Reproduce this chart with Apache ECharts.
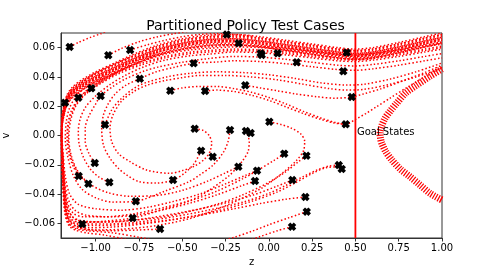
<!DOCTYPE html>
<html><head><meta charset="utf-8">
<script src="https://cdn.jsdelivr.net/npm/echarts@6/dist/echarts.min.js"></script>
<style>html,body{margin:0;padding:0;background:#fff}#c{width:491px;height:273px}</style>
</head><body><div id="c"></div>
<script>
const xTicks = [-1.0,-0.75,-0.5,-0.25,0,0.25,0.5,0.75,1.0];
const xTickLabels = ['−1.00','−0.75','−0.50','−0.25','0.00','0.25','0.50','0.75','1.00'];
const yTicks = [-0.06,-0.04,-0.02,0,0.02,0.04,0.06];
const yTickLabels = ['−0.06','−0.04','−0.02','0.00','0.02','0.04','0.06'];

// test-case start states [z, v]
const testCases = [[-1.177,0.0224],[-1.15,0.0605],[-1.1,0.0258],[-1.025,0.0322],[-0.971,0.027],[-0.927,0.0548],[-0.946,0.0074],[-0.801,0.0584],[-0.745,0.0388],[-0.569,0.0306],[-0.434,0.0493],[-0.428,0.0046],[-0.368,0.0304],[-0.243,0.069],[-0.174,0.063],[-0.224,0.0038],[-0.136,0.0343],[-0.132,0.0031],[-0.105,0.0017],[-0.047,0.0561],[-0.041,0.055],[0.051,0.0561],[0.003,0.0094],[0.161,0.050],[0.45,0.0566],[0.43,0.0439],[0.479,0.0263],[0.444,0.0077],[-0.391,-0.0104],[-0.324,-0.0145],[-1.005,-0.0188],[-1.098,-0.0277],[-1.042,-0.0329],[-0.921,-0.032],[-0.553,-0.0304],[-0.176,-0.0213],[-0.068,-0.024],[-0.08,-0.0311],[0.089,-0.0124],[0.217,-0.0138],[0.136,-0.0304],[0.404,-0.0202],[0.421,-0.0229],[-0.768,-0.0449],[-0.786,-0.0564],[-1.077,-0.0605],[-0.628,-0.0639],[0.211,-0.042],[0.219,-0.052],[0.134,-0.0623]];

// top band (z grid shared by the band strands)
const bandZ = [-1.195,-1.185,-1.165,-1.13,-1.08,-1.0,-0.9,-0.8,-0.65,-0.5,-0.35,-0.2,-0.05,0.1,0.25,0.4,0.5,0.6,0.75,0.9,1.0];
const bandA = [0.0115,0.0195,0.028,0.0335,0.038,0.0435,0.049,0.0545,0.0615,0.066,0.0685,0.069,0.0675,0.065,0.0625,0.06,0.059,0.06,0.0635,0.0675,0.07];
const bandB = [0.0105,0.0185,0.027,0.0325,0.037,0.0425,0.048,0.0535,0.0605,0.065,0.0675,0.068,0.0665,0.064,0.0615,0.059,0.058,0.059,0.0625,0.0665,0.069];
const bandC = [0.0095,0.0175,0.026,0.0315,0.036,0.0415,0.047,0.0525,0.0595,0.064,0.0665,0.067,0.0655,0.063,0.0605,0.058,0.057,0.058,0.0615,0.0655,0.068];
const bandD = [0.0085,0.0165,0.025,0.0305,0.035,0.0405,0.046,0.0515,0.0585,0.063,0.0655,0.066,0.0645,0.062,0.0595,0.057,0.056,0.057,0.0605,0.0645,0.067];
const bandE = [0.0075,0.0155,0.024,0.0295,0.034,0.0395,0.045,0.0505,0.0575,0.062,0.0645,0.065,0.0635,0.061,0.0585,0.056,0.055,0.056,0.0595,0.0635,0.066];
const bandF = [0.0065,0.0145,0.023,0.0285,0.033,0.0385,0.044,0.0495,0.0565,0.061,0.0635,0.064,0.0625,0.060,0.0575,0.055,0.054,0.055,0.0585,0.0625,0.065];
const bandG = [0.0055,0.0135,0.022,0.0275,0.032,0.0375,0.043,0.0485,0.0555,0.060,0.0625,0.063,0.0615,0.059,0.0565,0.054,0.053,0.054,0.0575,0.0615,0.064];
const bandH = [0.0045,0.0125,0.021,0.0265,0.031,0.0365,0.042,0.0475,0.0545,0.059,0.0615,0.062,0.0605,0.058,0.0555,0.053,0.052,0.053,0.0565,0.0605,0.063];

// lower parts of trajectories that run left, hit the wall and join the top band
const lowB1 = [[0.003,0.0094],[0.07,0.0075],[0.13,0.005],[0.185,0.001],[0.207,-0.004],[0.2,-0.0105],[0.16,-0.017],[0.08,-0.0255],[-0.05,-0.0365],[-0.25,-0.048],[-0.45,-0.0565],[-0.65,-0.0615],[-0.85,-0.064],[-1.0,-0.0645],[-1.1,-0.0635],[-1.15,-0.0605],[-1.175,-0.052],[-1.188,-0.035],[-1.195,-0.015],[-1.198,-0.002]];
const lowB2 = [[-0.132,0.0031],[-0.113,-0.004],[-0.12,-0.011],[-0.153,-0.0175],[-0.23,-0.0275],[-0.386,-0.0405],[-0.46,-0.0445],[-0.6,-0.049],[-0.78,-0.0535],[-0.95,-0.0555],[-1.07,-0.0555],[-1.13,-0.053],[-1.165,-0.045],[-1.182,-0.03],[-1.19,-0.014],[-1.196,-0.002]];
const lowB3 = [[0.211,-0.042],[0.1,-0.0435],[-0.05,-0.0465],[-0.2,-0.050],[-0.4,-0.0545],[-0.6,-0.058],[-0.8,-0.0605],[-1.0,-0.0615],[-1.1,-0.061],[-1.15,-0.058],[-1.175,-0.048],[-1.188,-0.03],[-1.195,-0.012],[-1.198,-0.002]];
const lowB4 = [[0.404,-0.0202],[0.35,-0.0208],[0.28,-0.0235],[0.2,-0.028],[0.1,-0.034],[0.0,-0.0395],[-0.15,-0.0455],[-0.35,-0.051],[-0.55,-0.0555],[-0.75,-0.059],[-0.95,-0.0605],[-1.08,-0.0605],[-1.14,-0.058],[-1.17,-0.05],[-1.185,-0.032],[-1.193,-0.013],[-1.197,-0.002]];
const lowB5 = [[0.421,-0.0229],[0.39,-0.0215],[0.33,-0.022],[0.25,-0.026],[0.15,-0.0325],[0.05,-0.0385],[-0.1,-0.045],[-0.3,-0.0515],[-0.5,-0.0565],[-0.7,-0.06],[-0.9,-0.0625],[-1.05,-0.063],[-1.12,-0.0615],[-1.16,-0.0565],[-1.18,-0.045],[-1.19,-0.025],[-1.196,-0.006]];
const lowB6 = [[0.136,-0.0304],[0.05,-0.0345],[-0.1,-0.041],[-0.3,-0.0475],[-0.5,-0.0525],[-0.7,-0.0565],[-0.9,-0.059],[-1.05,-0.059],[-1.12,-0.057],[-1.16,-0.05],[-1.18,-0.035],[-1.19,-0.016],[-1.196,-0.003]];
const lowB7 = [[0.219,-0.052],[0.12,-0.056],[0.0,-0.061],[-0.1,-0.0655],[-0.2,-0.0695],[-0.3,-0.0725],[-0.45,-0.0745],[-0.6,-0.073],[-0.75,-0.0695],[-0.9,-0.0665],[-1.05,-0.065],[-1.12,-0.0635],[-1.16,-0.0595],[-1.18,-0.048],[-1.19,-0.028],[-1.196,-0.008]];
const lowB8 = [[0.134,-0.0623],[0.05,-0.065],[-0.05,-0.069],[-0.15,-0.073],[-0.35,-0.0775],[-0.6,-0.076],[-0.8,-0.0715],[-0.95,-0.068],[-1.05,-0.0665],[-1.12,-0.0645],[-1.155,-0.0615],[-1.178,-0.053],[-1.19,-0.032],[-1.197,-0.008]];
const lowB9 = [[-0.628,-0.0639],[-0.75,-0.0645],[-0.9,-0.065],[-1.02,-0.0645],[-1.1,-0.0625],[-1.15,-0.059],[-1.175,-0.05],[-1.19,-0.03],[-1.197,-0.008]];
const lowO5 = [[0.089,-0.0124],[0.03,-0.017],[-0.068,-0.024],[-0.15,-0.0295],[-0.3,-0.038],[-0.45,-0.0445],[-0.6,-0.05],[-0.786,-0.0564],[-0.95,-0.0585],[-1.077,-0.0595],[-1.135,-0.0575],[-1.165,-0.05],[-1.182,-0.034],[-1.19,-0.015],[-1.196,-0.003]];
const lowO6 = [[0.217,-0.0138],[0.17,-0.018],[0.1,-0.0245],[0.0,-0.032],[-0.15,-0.0405],[-0.3,-0.047],[-0.5,-0.053],[-0.628,-0.056],[-0.8,-0.058],[-0.95,-0.059],[-1.06,-0.0585],[-1.13,-0.056],[-1.165,-0.048],[-1.182,-0.031],[-1.19,-0.013],[-1.196,-0.002]];
const lowO7 = [[-0.068,-0.024],[-0.13,-0.027],[-0.25,-0.033],[-0.4,-0.040],[-0.55,-0.045],[-0.7,-0.049],[-0.85,-0.051],[-1.0,-0.050],[-1.1,-0.047],[-1.15,-0.04],[-1.175,-0.028],[-1.187,-0.013],[-1.194,-0.002]];
const lowO8 = [[-0.08,-0.0311],[-0.15,-0.034],[-0.3,-0.0405],[-0.45,-0.046],[-0.6,-0.0505],[-0.75,-0.054],[-0.9,-0.0555],[-1.05,-0.0545],[-1.12,-0.051],[-1.16,-0.043],[-1.18,-0.03],[-1.19,-0.013],[-1.196,-0.002]];

// orbits that turn before the wall, and upper lines
const orbitO1 = [[-0.428,0.0046],[-0.38,0.0035],[-0.345,0.0],[-0.33,-0.005],[-0.34,-0.011],[-0.37,-0.016],[-0.43,-0.021],[-0.5,-0.024],[-0.57,-0.0258],[-0.705,-0.0236],[-0.801,-0.0179],[-0.869,-0.0122],[-0.907,-0.0042],[-0.917,0.005],[-0.9,0.014],[-0.85,0.0235],[-0.78,0.030],[-0.7,0.0345],[-0.6,0.0375],[-0.5,0.0395],[-0.397,0.041],[-0.25,0.041],[-0.1,0.040],[0.05,0.038],[0.2,0.035],[0.35,0.032],[0.45,0.031],[0.55,0.0315],[0.7,0.035],[0.85,0.040],[1.0,0.046]];
const orbitO2 = [[-0.391,-0.0104],[-0.43,-0.019],[-0.49,-0.026],[-0.553,-0.0304],[-0.65,-0.0325],[-0.75,-0.0315],[-0.82,-0.027],[-0.869,-0.0224],[-0.917,-0.0156],[-0.955,-0.0065],[-0.965,0.0049],[-0.955,0.014],[-0.93,0.021],[-0.89,0.028],[-0.83,0.034],[-0.745,0.0388],[-0.65,0.0435],[-0.55,0.0465],[-0.434,0.0493],[-0.3,0.0502],[-0.2,0.051],[-0.05,0.0505],[0.1,0.049],[0.25,0.047],[0.4,0.045],[0.5,0.0445],[0.6,0.0455],[0.75,0.048],[0.9,0.051],[1.0,0.053]];
const orbitO3 = [[-0.224,0.0038],[-0.235,-0.004],[-0.26,-0.011],[-0.32,-0.02],[-0.4,-0.027],[-0.46,-0.0315],[-0.6,-0.038],[-0.768,-0.0449],[-0.9,-0.0455],[-1.0,-0.0425],[-1.08,-0.0365],[-1.13,-0.027],[-1.16,-0.015],[-1.175,-0.003],[-1.17,0.009],[-1.15,0.019],[-1.11,0.027],[-1.05,0.0335],[-0.96,0.04],[-0.86,0.0465],[-0.73,0.0525],[-0.6,0.0565],[-0.45,0.0595],[-0.35,0.0605],[-0.2,0.0615],[-0.05,0.061],[0.1,0.0595],[0.25,0.0575],[0.4,0.0555],[0.5,0.055],[0.6,0.056],[0.75,0.0585],[0.9,0.0615],[1.0,0.0635]];
const orbitO4 = [[-1.005,-0.0188],[-1.04,-0.012],[-1.06,-0.004],[-1.06,0.005],[-1.04,0.013],[-1.0,0.0215],[-0.971,0.027],[-0.9,0.0335],[-0.83,0.0385],[-0.72,0.044],[-0.64,0.0467],[-0.5,0.050],[-0.35,0.0525],[-0.2,0.054],[-0.05,0.0535],[0.1,0.052],[0.25,0.050],[0.4,0.048],[0.5,0.0475],[0.6,0.0485],[0.75,0.051],[0.9,0.054],[1.0,0.056]];
const orbitO9 = [[-0.176,-0.0213],[-0.25,-0.0255],[-0.35,-0.031],[-0.5,-0.0375],[-0.65,-0.041],[-0.8,-0.0415],[-0.93,-0.039],[-1.03,-0.0335],[-1.1,-0.025],[-1.14,-0.014],[-1.155,-0.002],[-1.145,0.01],[-1.115,0.02],[-1.06,0.028],[-0.97,0.0355],[-0.87,0.042],[-0.74,0.048],[-0.6,0.053],[-0.45,0.056],[-0.35,0.057],[-0.2,0.058],[-0.05,0.0575],[0.1,0.056],[0.25,0.054],[0.4,0.052],[0.5,0.0515],[0.6,0.0525],[0.75,0.055],[0.9,0.058],[1.0,0.060]];
const orbitL2 = [[-1.098,-0.0277],[-1.13,-0.021],[-1.155,-0.012],[-1.165,-0.002],[-1.16,0.008],[-1.14,0.017],[-1.1,0.025],[-1.04,0.032],[-0.95,0.039],[-0.85,0.045],[-0.72,0.051],[-0.6,0.0555],[-0.45,0.0585],[-0.35,0.0595],[-0.2,0.0605],[-0.05,0.060],[0.1,0.0585],[0.25,0.0565],[0.4,0.0545],[0.5,0.054],[0.6,0.055],[0.75,0.0575],[0.9,0.0605],[1.0,0.0625]];
const orbitL3 = [[-1.042,-0.0329],[-1.09,-0.0275],[-1.13,-0.019],[-1.155,-0.008],[-1.16,0.003],[-1.145,0.013],[-1.11,0.022],[-1.05,0.0295],[-0.96,0.037],[-0.86,0.0435],[-0.73,0.0495],[-0.6,0.054],[-0.45,0.057],[-0.35,0.058],[-0.2,0.059],[-0.05,0.0585],[0.1,0.057],[0.25,0.055],[0.4,0.053],[0.5,0.0525],[0.6,0.0535],[0.75,0.056],[0.9,0.059],[1.0,0.061]];
const orbitL4 = [[-0.921,-0.032],[-0.98,-0.0285],[-1.03,-0.023],[-1.07,-0.015],[-1.095,-0.006],[-1.1,0.003],[-1.09,0.011],[-1.06,0.019],[-1.0,0.027],[-0.92,0.0345],[-0.83,0.041],[-0.72,0.047],[-0.6,0.0515],[-0.45,0.0545],[-0.35,0.0555],[-0.2,0.057],[-0.05,0.0565],[0.1,0.055],[0.25,0.053],[0.4,0.051],[0.5,0.0505],[0.6,0.0515],[0.75,0.054],[0.9,0.057],[1.0,0.059]];
const lineM7 = [[-0.946,0.0074],[-0.907,0.0175],[-0.84,0.0265],[-0.744,0.0345],[-0.589,0.040],[-0.45,0.0425],[-0.3,0.0435],[-0.15,0.043],[0.0,0.0415],[0.15,0.039],[0.3,0.036],[0.45,0.0345],[0.55,0.035],[0.7,0.0385],[0.85,0.0435],[1.0,0.0495]];
const lineM10 = [[-0.569,0.0306],[-0.5,0.0325],[-0.4,0.0335],[-0.3,0.0335],[-0.2,0.032],[-0.1,0.0295],[0.0,0.026],[0.1,0.0215],[0.2,0.0165],[0.3,0.012],[0.38,0.009],[0.444,0.0077],[0.5,0.011],[0.56,0.015],[0.62,0.0195],[0.7,0.0255],[0.8,0.033],[0.9,0.04],[1.0,0.0465]];
const lineM13 = [[-0.368,0.0304],[-0.3,0.031],[-0.2,0.030],[-0.1,0.0275],[0.0,0.024],[0.1,0.0195],[0.2,0.015],[0.3,0.011],[0.38,0.0085],[0.444,0.0077]];
const lineM17 = [[-0.136,0.0343],[-0.05,0.0325],[0.05,0.0305],[0.15,0.0285],[0.277,0.0265],[0.38,0.0255],[0.479,0.0263],[0.55,0.0285],[0.65,0.032],[0.8,0.0385],[0.9,0.043],[1.0,0.048]];
const lineM1 = [[-1.177,0.0224],[-1.15,0.0285],[-1.1,0.0345],[-1.0,0.0425],[-0.9,0.0485],[-0.8,0.0535]];
const lineM3 = [[-1.1,0.0258],[-1.05,0.0305],[-1.0,0.035],[-0.9,0.042],[-0.8,0.048]];
const lineM4 = [[-1.025,0.0322],[-0.95,0.038],[-0.85,0.0445],[-0.75,0.05],[-0.65,0.0545]];
const lineM8 = [[-0.801,0.0584],[-0.7,0.062],[-0.6,0.065],[-0.5,0.0675],[-0.4,0.069],[-0.3,0.0695],[-0.2,0.069],[-0.1,0.068]];
const lineM2 = [[-1.15,0.0605],[-1.1,0.0635],[-1.03,0.067],[-0.97,0.0695],[-0.92,0.072]];
const lineM6 = [[-0.927,0.0548],[-0.85,0.0595],[-0.75,0.064],[-0.64,0.0675],[-0.55,0.0695],[-0.45,0.0715]];

// dense set of trajectories turning back inside the goal side
const goalArc = [[1.0,0.0455],[0.93,0.0405],[0.854,0.0345],[0.79,0.029],[0.738,0.022],[0.7,0.0165],[0.671,0.0117],[0.652,0.0065],[0.642,0.0015],[0.645,-0.002],[0.652,-0.0053],[0.675,-0.011],[0.71,-0.0167],[0.76,-0.023],[0.815,-0.0281],[0.87,-0.0335],[0.931,-0.0395],[1.0,-0.0441]];

const goalZ = 0.5;
const goalLabel = 'Goal States';
const goalLabelAt = [0.5, 0.0];
const xRange = [-1.2, 1.0];
const yRange = [-0.07, 0.07];

function band(vals){ return bandZ.map((z,i)=>[z, vals[i]]); }

const trajectories = [
  lowB1.concat(band(bandA)), lowB2.concat(band(bandB)), lowB3.concat(band(bandC)),
  lowB4.concat(band(bandD)), lowB5.concat(band(bandE)), lowB6.concat(band(bandF)),
  lowB7.concat(band(bandG)), lowB8.concat(band(bandH)), lowB9.concat(band(bandE)),
  lowO5.concat(band(bandB)), lowO6.concat(band(bandD)), lowO7.concat(band(bandF)),
  lowO8.concat(band(bandH)),
  orbitO1, orbitO2, orbitO3, orbitO4, orbitO9, orbitL2, orbitL3, orbitL4,
  lineM7, lineM10, lineM13, lineM17, lineM1, lineM3, lineM4, lineM8, lineM2, lineM6
];

const RED = '#ff0000';
const series = trajectories.map(d => ({
  type:'line', data:d, showSymbol:false, smooth:0.3, silent:true, z:2,
  lineStyle:{color:RED, width:1.5, type:[1.5,2.2]}
}));
series.push({type:'line', data:goalArc, showSymbol:false, smooth:0.3, silent:true, z:2,
  lineStyle:{color:RED, width:7, type:[1.2,1.4]}});
series.push({type:'line', data:[[goalZ,yRange[0]],[goalZ,yRange[1]]], showSymbol:false, silent:true, z:3,
  lineStyle:{color:RED, width:1.8}});
series.push({type:'scatter', data:testCases, z:5, silent:true,
  symbol:'path://M0,3 L3,0 L5,2 L7,0 L10,3 L8,5 L10,7 L7,10 L5,8 L3,10 L0,7 L2,5 Z',
  symbolSize:8.5, itemStyle:{color:'#000', opacity:1}});

function fmt(ticks, labels){ return v => { const i = ticks.findIndex(t=>Math.abs(t-v)<1e-9); return i>=0 ? labels[i] : ''; }; }

const chart = echarts.init(document.getElementById('c'), null, {renderer:'canvas'});
chart.setOption({
  animation:false,
  backgroundColor:'#fff',
  title:{text:'Partitioned Policy Test Cases', left:'center', top:14,
    textStyle:{fontSize:14, fontWeight:'normal', color:'#000', fontFamily:'DejaVu Sans'}},
  grid:{left:61, right:49, top:33, bottom:35, show:true, borderColor:'#333', borderWidth:1,
    containLabel:false, outerBoundsMode:'none'},
  xAxis:{type:'value', min:xRange[0], max:xRange[1], name:'z', nameLocation:'middle', nameGap:17,
    nameTextStyle:{fontSize:10, color:'#000', fontFamily:'DejaVu Sans'},
    splitLine:{show:false},
    axisLine:{show:true, onZero:false, lineStyle:{color:'#333', width:1}},
    axisTick:{show:true, length:3.5, customValues:xTicks, lineStyle:{color:'#333'}},
    axisLabel:{customValues:xTicks, formatter:fmt(xTicks,xTickLabels), margin:5, fontSize:10, color:'#000', fontFamily:'DejaVu Sans'}},
  yAxis:{type:'value', min:yRange[0], max:yRange[1], name:'v', nameLocation:'middle', nameGap:50, nameRotate:90,
    nameTextStyle:{fontSize:10, color:'#000', fontFamily:'DejaVu Sans'},
    splitLine:{show:false},
    axisLine:{show:true, onZero:false, lineStyle:{color:'#333', width:1}},
    axisTick:{show:true, length:3.5, customValues:yTicks, lineStyle:{color:'#333'}},
    axisLabel:{customValues:yTicks, formatter:fmt(yTicks,yTickLabels), margin:6, fontSize:10, color:'#000', fontFamily:'DejaVu Sans'}},
  series:series
});
const p = chart.convertToPixel({gridIndex:0}, goalLabelAt);
chart.setOption({graphic:[{type:'text', x:p[0]+1.5, y:p[1]-3, z:10, silent:true,
  style:{text:goalLabel, fill:'#000', font:'10px "DejaVu Sans"', textAlign:'left', textVerticalAlign:'middle'}}]});
</script>
</body></html>
